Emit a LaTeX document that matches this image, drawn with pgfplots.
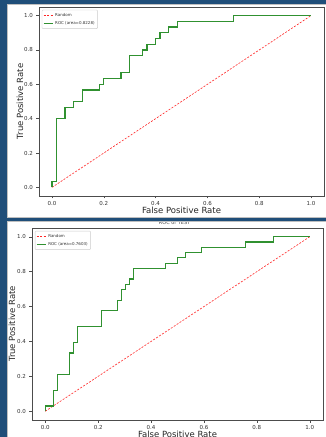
\documentclass[border=0pt]{standalone}
\usepackage{fontspec}
\setmainfont{DejaVu Sans}
\usepackage{pgfplots}
\pgfplotsset{compat=1.18}
\definecolor{bgblue}{RGB}{31,78,121}
\definecolor{rocgreen}{RGB}{48,145,48}
\pgfplotsset{
  rocaxis/.style={
    scale only axis,
    anchor=south west,
    xmin=-0.05, xmax=1.05, ymin=-0.05, ymax=1.05,
    xtick={0,0.2,0.4,0.6,0.8,1.0},
    ytick={0,0.2,0.4,0.6,0.8,1.0},
    xtick pos=left, ytick pos=left,
    tick align=outside, major tick length=2.5pt,
    tick style={black!70, line width=0.4pt},
    axis line style={black!70, line width=0.5pt},
    ticklabel style={font=\fontsize{5.5}{6}\selectfont, text=black!80},
    xticklabel style={yshift=1pt},
    /pgf/number format/fixed,
    /pgf/number format/fixed zerofill,
    /pgf/number format/precision=1,
    /pgf/number format/assume math mode=true,
    label style={font=\fontsize{8.5}{10}\selectfont, text=black!85},
    every axis title shift=0pt,
    title style={font=\fontsize{5}{6}\selectfont, text=black!70, anchor=center, overlay},
    xlabel={False Positive Rate},
    ylabel={True Positive Rate},
    legend cell align=left,
    legend style={at={(0.01,0.985)}, anchor=north west, draw=black!20,
      rounded corners=1pt, font=\fontsize{4}{4.5}\selectfont,
      inner sep=1pt, row sep=-0.5pt, text=black!80},
    legend image code/.code={\draw[##1] (0pt,0pt) -- (9pt,0pt);},
  },
  randline/.style={color=red!85, line width=0.6pt, dash pattern=on 2pt off 1.5pt},
  rocline/.style={color=rocgreen, line width=1.2pt},
}
\begin{document}
\begin{tikzpicture}
\fill[bgblue] (0pt,0pt) rectangle (326pt,437pt);
\fill[white] (7pt,220pt) rectangle (326pt,433pt);
\fill[white] (7pt,0pt) rectangle (326pt,216pt);

% TRAIN
\begin{axis}[rocaxis, at={(39pt,241pt)}, width=285pt, height=189pt,
  title={ROC of TRAIN}, title style={at={(axis description cs:0.5,1.024)}, yshift=0pt},
  xlabel style={at={(axis description cs:0.5,-0.078)}, anchor=center},
  ylabel style={at={(axis description cs:-0.067,0.5)}, anchor=center}]
\addplot[randline] coordinates {(0,0) (1,1)};
\addlegendentry{Random}
\addplot[rocline] coordinates {
(0,0) (0,0.0333) (0.0167,0.0333) (0.0167,0.4) (0.05,0.4) (0.05,0.4667)
(0.0833,0.4667) (0.0833,0.5) (0.1167,0.5) (0.1167,0.5667) (0.1833,0.5667)
(0.1833,0.6) (0.2,0.6) (0.2,0.6333) (0.2667,0.6333) (0.2667,0.6667)
(0.3,0.6667) (0.3,0.7667) (0.35,0.7667) (0.35,0.8) (0.3667,0.8)
(0.3667,0.8333) (0.4,0.8333) (0.4,0.8667) (0.4167,0.8667) (0.4167,0.9)
(0.45,0.9) (0.45,0.9333) (0.4833,0.9333) (0.4833,0.9667) (0.7,0.9667)
(0.7,1) (1,1)};
\addlegendentry{ROC (area=0.8228)}
\end{axis}

% TEST
\begin{axis}[rocaxis, at={(32pt,17pt)}, width=291pt, height=192pt,
  title={ROC of TEST}, title style={at={(axis description cs:0.49,1.027)}, yshift=0pt},
  xlabel style={at={(axis description cs:0.5,-0.076)}, anchor=center, overlay},
  ylabel style={at={(axis description cs:-0.069,0.5)}, anchor=center}]
\addplot[randline] coordinates {(0,0) (1,1)};
\addlegendentry{Random}
\addplot[rocline] coordinates {
(0,0) (0,0.0303) (0.0303,0.0303) (0.0303,0.1212) (0.0455,0.1212)
(0.0455,0.2121) (0.0909,0.2121) (0.0909,0.3333) (0.1061,0.3333)
(0.1061,0.3939) (0.1212,0.3939) (0.1212,0.4848) (0.2121,0.4848)
(0.2121,0.5758) (0.2727,0.5758) (0.2727,0.6364) (0.2879,0.6364)
(0.2879,0.6970) (0.3030,0.6970) (0.3030,0.7273) (0.3182,0.7273)
(0.3182,0.7576) (0.3333,0.7576) (0.3333,0.8182) (0.4545,0.8182)
(0.4545,0.8485) (0.5,0.8485) (0.5,0.8788) (0.5303,0.8788) (0.5303,0.9091)
(0.5909,0.9091) (0.5909,0.9394) (0.7576,0.9394) (0.7576,0.9697)
(0.8636,0.9697) (0.8636,1) (1,1)};
\addlegendentry{ROC (area=0.7603)}
\end{axis}

% overlays of the screenshot frame
\fill[bgblue] (0pt,433pt) rectangle (326pt,437pt);
\fill[bgblue] (0pt,216pt) rectangle (326pt,220pt);
\fill[bgblue] (0pt,0pt) rectangle (7pt,437pt);
\draw[black!25, line width=0.4pt] (7.2pt,220.2pt) rectangle (325.8pt,432.8pt);
\draw[black!25, line width=0.4pt] (7.2pt,0.2pt) rectangle (325.8pt,215.8pt);
\end{tikzpicture}
\end{document}
